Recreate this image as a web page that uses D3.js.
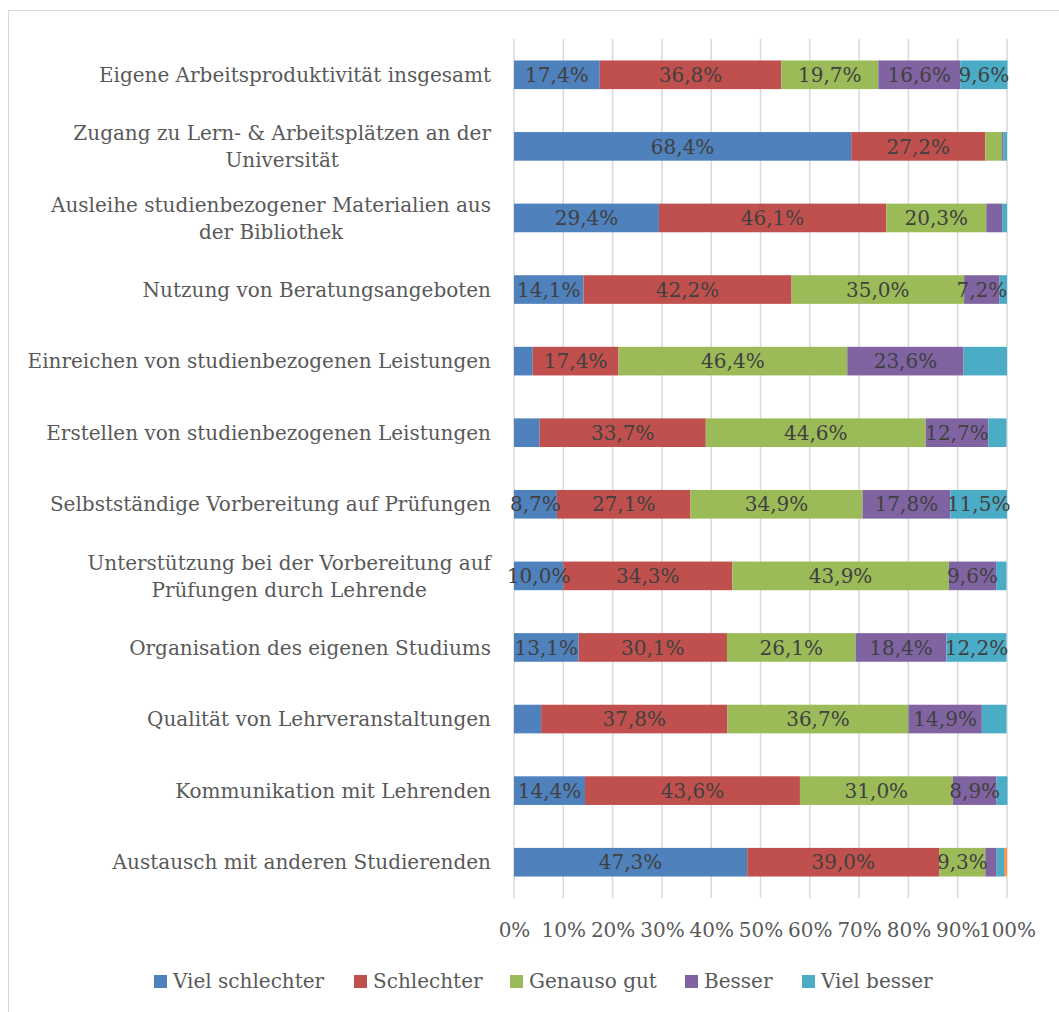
<!DOCTYPE html>
<html>
<head>
<meta charset="utf-8">
<script src="https://cdn.jsdelivr.net/npm/d3@7/dist/d3.min.js"></script>
<style>
  html, body { margin: 0; padding: 0; background: #fff; }
  svg { display: block; }
  text { font-family: "DejaVu Serif", serif; }
</style>
</head>
<body>
<svg id="chart" width="1059" height="1012"></svg>
<script>
// ---- data (percent), categories top to bottom ----
const categories = [
  "Eigene Arbeitsproduktivität insgesamt",
  "Zugang zu Lern- & Arbeitsplätzen an der\nUniversität",
  "Ausleihe studienbezogener Materialien aus\nder Bibliothek",
  "Nutzung von Beratungsangeboten",
  "Einreichen von studienbezogenen Leistungen",
  "Erstellen von studienbezogenen Leistungen",
  "Selbstständige Vorbereitung auf Prüfungen",
  "Unterstützung bei der Vorbereitung auf\nPrüfungen durch Lehrende",
  "Organisation des eigenen Studiums",
  "Qualität von Lehrveranstaltungen",
  "Kommunikation mit Lehrenden",
  "Austausch mit anderen Studierenden"
];
const seriesNames = ["Viel schlechter", "Schlechter", "Genauso gut", "Besser", "Viel besser", "Keine Angabe"];
const vielSchlechter = [17.4, 68.4, 29.4, 14.1, 3.8, 5.2, 8.7, 10.0, 13.1, 5.5, 14.4, 47.3];
const schlechter     = [36.8, 27.2, 46.1, 42.2, 17.4, 33.7, 27.1, 34.3, 30.1, 37.8, 43.6, 39.0];
const genausoGut     = [19.7, 3.4, 20.3, 35.0, 46.4, 44.6, 34.9, 43.9, 26.1, 36.7, 31.0, 9.3];
const besser         = [16.6, 0.3, 3.2, 7.2, 23.6, 12.7, 17.8, 9.6, 18.4, 14.9, 8.9, 2.3];
const vielBesser     = [9.6, 0.7, 1.0, 1.5, 8.8, 3.7, 11.5, 2.1, 12.2, 5.0, 2.2, 1.5];
const keineAngabe    = [0, 0, 0, 0, 0, 0, 0, 0, 0, 0, 0, 0.6];
const legendSeries = ["Viel schlechter", "Schlechter", "Genauso gut", "Besser", "Viel besser"];
const tickValues = [0, 10, 20, 30, 40, 50, 60, 70, 80, 90, 100];
// data labels shown for segments >= 7 %, except these (category index, series index)
const hiddenLabels = [[4, 4]];
const colors = ["#4F81BD", "#C0504D", "#9BBB59", "#8064A2", "#4BACC6", "#F79646"];

// ---- build table ----
const seriesValues = [vielSchlechter, schlechter, genausoGut, besser, vielBesser, keineAngabe];
const rows = categories.map((c, i) => {
  const r = { cat: c, idx: i };
  seriesNames.forEach((s, j) => r[s] = seriesValues[j][i]);
  return r;
});
const stack = d3.stack().keys(seriesNames)(rows);

const svg = d3.select("#chart");
const W = 1059, H = 1012;

// outer chart border
svg.append("rect").attr("x", 8.5).attr("y", 10.5).attr("width", W + 10).attr("height", H + 10)
  .attr("fill", "none").attr("stroke", "#d9d9d9").attr("stroke-width", 1);

const x = d3.scaleLinear().domain([0, 100]).range([514, 1007]);
const y = d3.scaleBand().domain(categories).range([39, 898]).paddingInner(0.6).paddingOuter(0.3);
const plotTop = 39, plotBottom = 898;

// gridlines
svg.append("g").selectAll("line").data(tickValues).join("line")
  .attr("x1", d => x(d)).attr("x2", d => x(d))
  .attr("y1", plotTop).attr("y2", plotBottom)
  .attr("stroke", "#d9d9d9").attr("stroke-width", 1.5);

// bars
const g = svg.append("g");
stack.forEach((layer, j) => {
  g.append("g").attr("fill", colors[j]).selectAll("rect").data(layer).join("rect")
    .attr("x", d => x(d[0]))
    .attr("width", d => Math.max(0, x(d[1]) - x(d[0])))
    .attr("y", d => y(d.data.cat))
    .attr("height", y.bandwidth());
});

// data labels
const loc = d3.formatLocale({ decimal: ",", thousands: ".", grouping: [3], currency: ["", "€"] });
const fmt = loc.format(".1f");
const isHidden = (i, j) => hiddenLabels.some(h => h[0] === i && h[1] === j);
stack.forEach((layer, j) => {
  const data = layer.filter((d, i) => (d[1] - d[0]) >= 7 && !isHidden(i, j));
  svg.append("g").selectAll("text").data(data).join("text")
    .attr("x", d => x((d[0] + d[1]) / 2))
    .attr("y", d => y(d.data.cat) + y.bandwidth() / 2)
    .attr("dy", "0.36em")
    .attr("text-anchor", "middle")
    .attr("font-size", 20)
    .attr("fill", "#404040")
    .text(d => fmt(d[1] - d[0]) + "%");
});

// category labels
const catG = svg.append("g");
categories.forEach(c => {
  const lines = c.split("\n");
  const cy = y(c) + y.bandwidth() / 2;
  const lh = 27;
  const t = catG.append("text").attr("font-size", 20).attr("fill", "#595959");
  lines.forEach((ln, k) => {
    t.append("tspan").attr("y", cy + (k - (lines.length - 1) / 2) * lh).attr("dy", "0.36em").text(ln);
  });
  if (lines.length === 1) {
    t.attr("text-anchor", "end").selectAll("tspan").attr("x", 491);
  } else {
    let maxW = 0;
    t.selectAll("tspan").each(function() { maxW = Math.max(maxW, this.getComputedTextLength()); });
    t.attr("text-anchor", "middle").selectAll("tspan").attr("x", 491 - maxW / 2);
  }
});

// x axis tick labels
const xAxis = d3.axisBottom(x).tickValues(tickValues).tickFormat(d => d + "%").tickSize(0).tickPadding(0);
const ax = svg.append("g").attr("transform", `translate(0, ${plotBottom})`).call(xAxis);
ax.select(".domain").remove();
ax.selectAll("text").attr("font-family", "DejaVu Serif, serif").attr("font-size", 20)
  .attr("fill", "#595959").attr("y", 39).attr("dy", 0);

// legend
const legendX = [154, 354, 510, 685, 802];
const lg = svg.append("g");
legendSeries.forEach((s, j) => {
  lg.append("rect").attr("x", legendX[j]).attr("y", 975).attr("width", 13).attr("height", 13)
    .attr("fill", colors[seriesNames.indexOf(s)]);
  lg.append("text").attr("x", legendX[j] + 19).attr("y", 988).attr("font-size", 20)
    .attr("fill", "#595959").text(s);
});
</script>
</body>
</html>
